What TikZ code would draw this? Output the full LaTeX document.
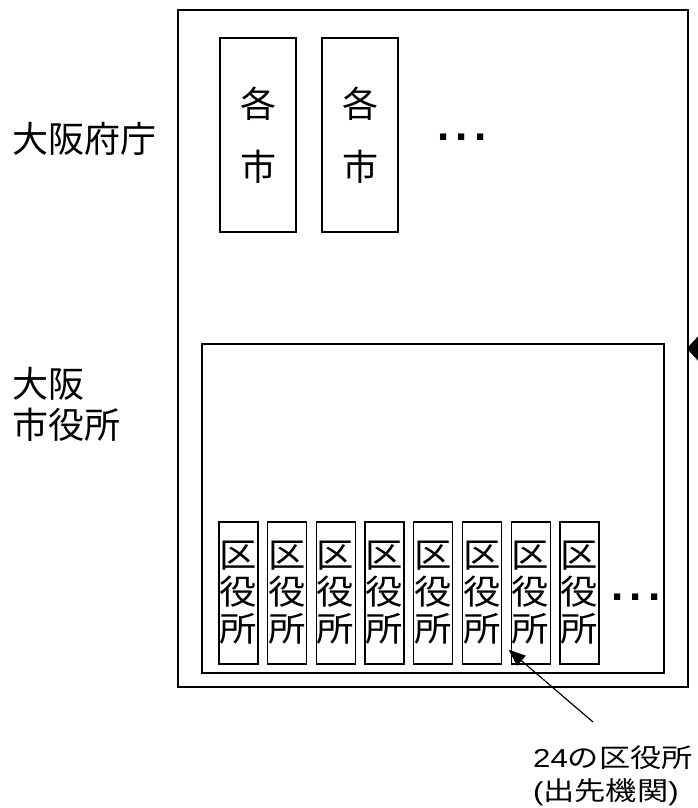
\documentclass[tikz,border=0pt]{standalone}
\usepackage{fontspec}
\usepackage{graphicx}
\setmainfont{Noto Sans CJK JP}
\newfontfamily\latf{Liberation Sans}
\newcommand\xwide[2]{\scalebox{#1}[1]{#2}}
\usetikzlibrary{arrows.meta,calc}
\begin{document}
\begin{tikzpicture}[x=1pt,y=-1pt,
  box/.style={draw,line width=1.5pt,inner sep=0pt},
  citybox/.style={box,minimum width=76pt,minimum height=194pt,align=center,font=\fontsize{36}{63}\selectfont},
  ward/.style={box,line width=1.3pt,minimum width=39pt,minimum height=142pt,text width=38pt,align=left,font=\fontsize{34}{37}\selectfont},
  lbl/.style={inner sep=0pt,align=left,font=\fontsize{36}{41}\selectfont},
  dotsn/.style={inner sep=0pt,font=\latf\bfseries\fontsize{44}{44}\selectfont},
  arr/.style={line width=1.2pt,-{Triangle[length=17pt,width=13pt]}}]
\clip (0,0) rectangle (698,808);
\fill[white] (0,0) rectangle (698,808);
% outer box (prefecture)
\node[box,minimum width=510pt,minimum height=677pt] (pref) at (433,348.5) {};
% inner box (Osaka city)
\node[box,minimum width=462pt,minimum height=329pt] (city) at (433,508.5) {};
% cities
\node[citybox] (c1) at (258,135) {各\\市};
\node[citybox] (c2) at (360,135) {各\\市};
\node[dotsn] (d1) at (462,137) {.\hspace{6.3pt}.\hspace{6.3pt}.};
% wards
\foreach \i in {0,...,7}{
  \node[ward] (w\i) at ({238.5+48.7*\i},593) {\xwide{1.1}{区}\\\xwide{1.1}{役}\\\xwide{1.1}{所}};
}
\node[dotsn] (d2) at (636,597) {.\hspace{6.3pt}.\hspace{6.3pt}.};
% left labels
\node[lbl,anchor=west] (lp) at (12,139) {大阪府庁};
\node[lbl,anchor=west] (lc) at (12,404) {大阪\\市役所};
% bottom label
\node[inner sep=0pt,align=left,anchor=west,font=\fontsize{26}{33}\selectfont] (lw) at (533,776) {\xwide{1.2}{{\latf 24}の区役所}\\\xwide{1.2}{{\latf (}出先機関{\latf )}}};
\coordinate (ls) at (593,722);
\draw[arr] (ls) -- ($(w6.south west)+(-2,-15)$);
% arrow coming from the right
\coordinate (rs) at (740,348.5);
\draw[line width=1.2pt,-{Triangle[length=14pt,width=30pt]}] (rs) -- ($(pref.east)+(-2,0)$);
\end{tikzpicture}
\end{document}
